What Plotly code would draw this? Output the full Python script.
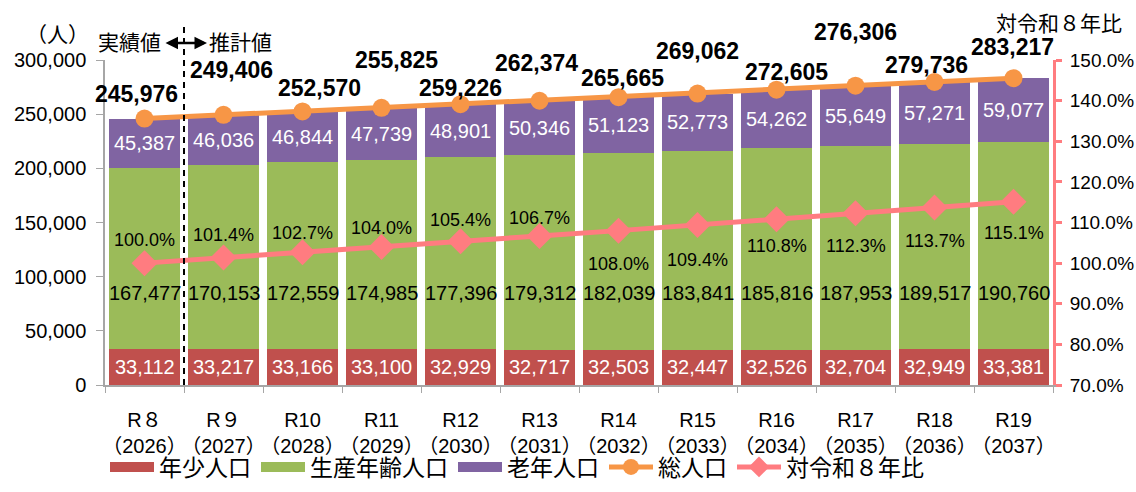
import plotly.graph_objects as go

# ---- data ----
era = ["R８", "R９", "R10", "R11", "R12", "R13", "R14", "R15", "R16", "R17", "R18", "R19"]
years = ["2026", "2027", "2028", "2029", "2030", "2031", "2032", "2033", "2034", "2035", "2036", "2037"]
young = [33112, 33217, 33166, 33100, 32929, 32717, 32503, 32447, 32526, 32704, 32949, 33381]
working = [167477, 170153, 172559, 174985, 177396, 179312, 182039, 183841, 185816, 187953, 189517, 190760]
elderly = [45387, 46036, 46844, 47739, 48901, 50346, 51123, 52773, 54262, 55649, 57271, 59077]
total = [245976, 249406, 252570, 255825, 259226, 262374, 265665, 269062, 272605, 276306, 279736, 283217]
ratio = [100.0, 101.4, 102.7, 104.0, 105.4, 106.7, 108.0, 109.4, 110.8, 112.3, 113.7, 115.1]

# ---- label placement (style, pixels) ----
total_dx = [-8, 8, 17, 15, 0, -3, 4, 0, 10, 0, -8, -1]
total_dy = [25, 45, 23, 48, 16, 38, 19, 43, 18, 54, 17, 31]
ratio_dy = [23, 22, 19, 19, 21, 18, -33, -35, -27, -33, -34, -31]
WORK_LABEL_Y = 85000

cats = [f"{e}<br>（{y}）" for e, y in zip(era, years)]

RED = "#C0504D"
GREEN = "#9BBB59"
PURPLE = "#8064A2"
ORANGE = "#F79646"
PINK = "#FF7C80"
GRAY = "#A6A6A6"
FONT = "Liberation Sans, Noto Sans CJK JP, sans-serif"
JFONT = "Noto Sans CJK JP, sans-serif"

fig = go.Figure()
for name, vals, col in [("年少人口", young, RED), ("生産年齢人口", working, GREEN), ("老年人口", elderly, PURPLE)]:
    fig.add_trace(go.Bar(x=cats, y=vals, marker=dict(color=col, line=dict(width=0)),
                         name=name, showlegend=False, hoverinfo="y"))
# legend stand-ins for bars (wide swatches)
for name, col in [("年少人口", RED), ("生産年齢人口", GREEN), ("老年人口", PURPLE)]:
    fig.add_trace(go.Scatter(x=[None], y=[None], mode="lines", name=name,
                             line=dict(color=col, width=12)))

fig.add_trace(go.Scatter(x=cats, y=total, mode="lines+markers", name="総人口",
                         line=dict(color=ORANGE, width=5),
                         marker=dict(symbol="circle", size=18, color=ORANGE)))
fig.add_trace(go.Scatter(x=cats, y=ratio, mode="lines+markers", name="対令和８年比", yaxis="y2",
                         line=dict(color=PINK, width=5),
                         marker=dict(symbol="diamond", size=20, color=PINK)))

ann = []
for i, c in enumerate(cats):
    ann.append(dict(x=c, y=young[i] / 2, text=f"{young[i]:,}", showarrow=False,
                    font=dict(family=FONT, size=20, color="white")))
    ann.append(dict(x=c, y=WORK_LABEL_Y, text=f"{working[i]:,}", showarrow=False,
                    font=dict(family=FONT, size=20, color="black")))
    ann.append(dict(x=c, y=young[i] + working[i] + elderly[i] / 2, text=f"{elderly[i]:,}", showarrow=False,
                    font=dict(family=FONT, size=20, color="white")))
    ann.append(dict(x=c, y=total[i], text=f"<b>{total[i]:,}</b>", showarrow=False,
                    xshift=total_dx[i], yshift=total_dy[i],
                    font=dict(family=FONT, size=23, color="black")))
    ann.append(dict(x=c, y=ratio[i], yref="y2", text=f"{ratio[i]:.1f}%", showarrow=False,
                    yshift=ratio_dy[i], font=dict(family=FONT, size=18, color="black")))

W, L, R, T, B = 1136, 105, 83, 60, 107
PW = W - L - R
PH = 492 - T - B


def px(x):
    return (x - L) / PW


def py(y):
    return (492 - B - y) / PH


jf = dict(family=JFONT, size=21, color="black")
ann += [
    dict(xref="paper", yref="paper", x=px(57), y=py(33), xanchor="center", yanchor="middle",
         text="（人）", showarrow=False, font=jf),
    dict(xref="paper", yref="paper", x=px(1059), y=py(22), xanchor="center", yanchor="middle",
         text="対令和８年比", showarrow=False, font=jf),
    dict(xref="paper", yref="paper", x=px(163), y=py(41), xanchor="right", yanchor="middle",
         text="実績値", showarrow=False, font=jf),
    dict(xref="paper", yref="paper", x=px(207), y=py(41), xanchor="left", yanchor="middle",
         text="推計値", showarrow=False, font=jf),
    dict(xref="paper", yref="paper", x=px(207), y=py(43), ax=-43, ay=0, text="", showarrow=True,
         arrowside="end+start", arrowhead=2, arrowsize=1, arrowwidth=2.5, arrowcolor="black",
         standoff=0, startstandoff=0),
]

fig.update_layout(
    width=W, height=492,
    margin=dict(l=L, r=R, t=T, b=B, pad=0, autoexpand=False),
    paper_bgcolor="white", plot_bgcolor="white",
    barmode="stack", bargap=0.09,
    font=dict(family=FONT, size=20, color="black"),
    annotations=ann,
    shapes=[dict(type="line", xref="x", yref="paper", x0=0.5, x1=0.5, y0=0, y1=py(26),
                 line=dict(color="black", width=2, dash="6px,5px"))],
    xaxis=dict(type="category", tickson="boundaries", ticks="outside", ticklen=6, tickcolor=GRAY,
               showline=True, linecolor=GRAY, linewidth=1.5, showgrid=False, tickangle=0,
               automargin=False, ticklabelstandoff=16,
               tickfont=dict(family=FONT, size=20, color="black"), range=[-0.5, 11.5]),
    yaxis=dict(range=[0, 300000], dtick=50000, tickformat=",", showgrid=False, zeroline=False,
               showline=True, linecolor=GRAY, linewidth=1.5, ticks="outside", ticklen=7, tickcolor=GRAY,
               automargin=False, ticklabelstandoff=6,
               tickfont=dict(family=FONT, size=20, color="black")),
    yaxis2=dict(range=[70, 150], dtick=10, tickformat=".1f", ticksuffix="%", overlaying="y", side="right",
                showgrid=False, zeroline=False, showline=True, linecolor=PINK, linewidth=3,
                ticks="outside", ticklen=6, tickwidth=3, tickcolor=PINK, automargin=False,
                ticklabelstandoff=4,
                tickfont=dict(family=FONT, size=19, color="black")),
    legend=dict(orientation="h", x=0, xanchor="left", y=py(467), yanchor="middle",
                font=dict(family=FONT, size=23, color="black"), itemwidth=44, traceorder="normal",
                bgcolor="rgba(0,0,0,0)"),
    showlegend=True,
)

fig.write_html("out.html", config={"displayModeBar": False},
               post_script="document.body.style.margin='0';")
